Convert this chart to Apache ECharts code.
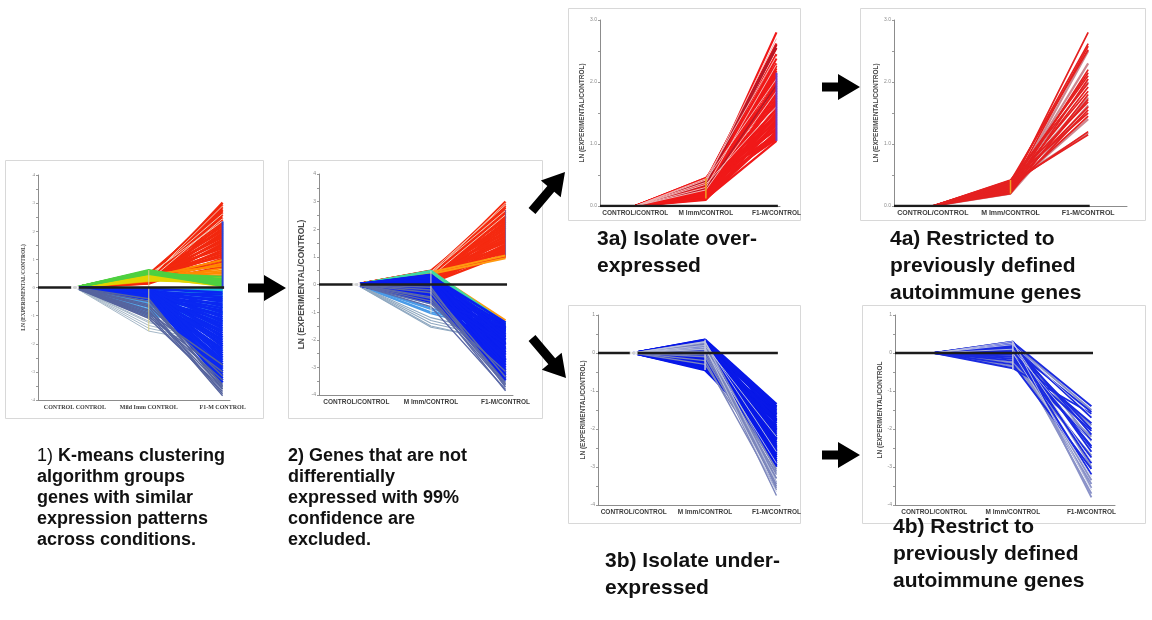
<!DOCTYPE html>
<html>
<head>
<meta charset="utf-8">
<script src="https://cdn.jsdelivr.net/npm/echarts@6/dist/echarts.min.js"></script>
<style>
  html, body { margin: 0; padding: 0; background: #ffffff; }
  #chart { width: 1152px; height: 620px; }
</style>
</head>
<body>
<div id="chart"></div>
<script>
// Conditions shown along each panel's horizontal axis (CONTROL/CONTROL is the baseline, always 0)
const conditionsStep1 = ['CONTROL CONTROL', 'Mild Imm CONTROL', 'F1-M CONTROL'];
const conditions = ['CONTROL/CONTROL', 'M Imm/CONTROL', 'F1-M/CONTROL'];
const yName = 'LN (EXPERIMENTAL/CONTROL)';
const yNameShort = 'LN (EXPERIMENTAL/CONTROL';

// Gene expression profiles: [LN ratio at M Imm, LN ratio at F1-M]

// Step 1: all genes, coloured by k-means cluster
const allRed = [[0.22,3.02],[0.35,2.95],[0.41,2.86],[0.28,2.78],[0.47,2.72],[0.19,2.66],[0.33,2.58],[0.44,2.49],[0.25,2.41],[0.38,2.33],[0.15,2.26],[0.49,2.18],[0.3,2.1],[0.42,2.02],[0.2,1.95],[0.36,1.87],[0.46,1.79],[0.26,1.71],[0.4,1.63],[0.17,1.56],[0.33,1.48],[0.48,1.4],[0.23,1.33],[0.39,1.25],[0.29,1.18],[0.44,1.1],[0.14,1.03],[0.35,0.96],[0.27,0.88],[0.43,0.8],[0.2,0.74]];
const allPale = [[0.3,2.9],[0.38,2.62],[0.24,2.45],[0.45,2.36]];
const allOrange = [[0.36,0.98],[0.28,0.85],[0.45,0.77],[0.31,0.68],[0.4,0.6],[0.22,0.55],[0.47,0.5],[0.34,0.44],[0.26,0.38],[0.42,0.52]];
const allYellow = [[0.38,0.34],[0.3,0.28],[0.45,0.22],[0.25,0.18],[0.41,0.13],[0.33,0.09],[0.5,0.25],[0.36,0.05]];
const allGreen = [[0.55,0.3],[0.6,0.22],[0.52,0.15],[0.58,0.1],[0.5,0.38],[0.57,0.04],[0.62,0.18],[0.48,0.08],[0.54,0.26],[0.6,0.12]];
const allCyan = [[-0.12,-0.08],[-0.2,-0.15],[-0.08,-0.05],[-0.28,-0.22],[-0.16,-0.3],[-0.05,-0.12]];
const allSky = [[-0.25,-0.45],[-0.35,-0.7],[-0.48,-0.6],[-0.55,-0.95],[-0.62,-1.2],[-0.7,-0.85],[-0.78,-1.35],[-0.85,-1.1],[-0.92,-1.5],[-1.0,-1.25],[-0.4,-0.9],[-0.3,-0.35],[-0.66,-0.5],[-0.82,-0.72],[-0.95,-0.9]];
const allGrey = [[-1.1,-1.6],[-1.25,-1.85],[-1.45,-2.0],[-1.55,-2.05],[-1.35,-1.95],[-1.2,-2.1]];
const allBlue = [[-0.05,-0.18],[-0.2,-0.25],[-0.12,-0.35],[-0.3,-0.42],[-0.15,-0.5],[-0.34,-0.58],[-0.08,-0.66],[-0.26,-0.74],[-0.36,-0.82],[-0.1,-0.9],[-0.3,-0.98],[-0.18,-1.06],[-0.38,-1.14],[-0.06,-1.22],[-0.28,-1.3],[-0.34,-1.38],[-0.14,-1.46],[-0.3,-1.54],[-0.22,-1.62],[-0.38,-1.7],[-0.04,-1.78],[-0.27,-1.86],[-0.19,-1.94],[-0.35,-2.02],[-0.09,-2.1],[-0.4,-2.18],[-0.24,-2.26],[-0.15,-2.34],[-0.32,-2.42],[-0.07,-2.5],[-0.37,-2.58],[-0.21,-2.66],[-0.29,-2.74],[-0.12,-2.82],[-0.4,-2.9],[-0.2,-2.98],[-0.33,-3.06],[-0.27,-3.14],[-0.41,-3.22],[-0.17,-3.3],[-0.32,-3.38]];
const allSlate = [[-0.6,-3.45],[-0.85,-3.55],[-0.4,-3.62],[-1.0,-3.7],[-0.7,-3.78],[-0.95,-3.3],[-0.5,-3.5],[-0.8,-3.85],[-1.1,-3.6],[-0.65,-3.15],[-0.9,-2.75],[-1.05,-3.0]];

// Step 2: genes differentially expressed with 99% confidence
const deRed = [[0.32,3.0],[0.45,2.92],[0.2,2.85],[0.38,2.78],[0.5,2.7],[0.26,2.63],[0.42,2.55],[0.12,2.48],[0.35,2.41],[0.47,2.34],[0.22,2.27],[0.4,2.2],[0.3,2.13],[0.08,2.06],[0.44,1.99],[0.27,1.92],[0.37,1.85],[0.16,1.78],[0.49,1.72],[0.33,1.65],[0.24,1.58],[0.41,1.52],[0.1,1.45],[0.36,1.39],[0.46,1.33],[0.19,1.27],[0.3,1.21],[0.43,1.15],[0.06,1.1],[0.28,1.05],[0.39,1.0],[0.15,1.62],[0.48,2.45],[0.05,1.35],[0.34,1.03]];
const dePale = [[0.36,2.95],[0.42,2.68],[0.28,2.52],[0.46,2.88]];
const deOrange = [[0.44,1.05],[0.38,0.95],[0.47,-1.3],[0.42,-1.42]];
const deGreen = [[0.48,-1.45],[0.45,-1.6],[0.5,-1.4],[0.3,-1.5],[0.25,-1.65]];
const deSky = [[-0.55,-1.5],[-0.7,-1.65],[-0.85,-1.8],[-1.0,-1.55],[-0.6,-2.0],[-0.9,-2.1],[-1.05,-1.75]];
const deGrey = [[-1.2,-1.85],[-1.4,-2.0],[-1.55,-2.05],[-1.3,-1.95],[-1.5,-2.1]];
const deBlue = [[0.3,-1.38],[0.1,-1.45],[-0.2,-1.5],[0.22,-1.56],[-0.45,-1.62],[0.05,-1.68],[-0.3,-1.74],[0.35,-1.8],[-0.1,-1.86],[-0.6,-1.92],[0.15,-1.98],[-0.25,-2.04],[-0.55,-2.1],[0.28,-2.16],[-0.05,-2.22],[-0.5,-2.28],[0.18,-2.34],[-0.35,-2.4],[-0.6,-2.46],[0.08,-2.52],[-0.15,-2.58],[-0.62,-2.64],[0.25,-2.7],[-0.4,-2.76],[-0.02,-2.82],[-0.5,-2.88],[0.12,-2.94],[-0.28,-3.0],[-0.55,-3.06],[0.2,-3.12],[-0.12,-3.18],[-0.58,-3.24],[0.02,-3.3],[-0.42,-3.36],[-0.48,-3.42],[-0.22,-3.48],[0.32,-1.6],[-0.62,-1.7],[0.14,-2.0],[-0.45,-2.3],[0.26,-2.45],[-0.58,-1.55],[0.04,-2.75],[-0.38,-2.15],[0.33,-1.9]];
const deSlate = [[-0.3,-3.55],[-0.6,-3.65],[-0.1,-3.72],[-0.8,-3.8],[-0.45,-3.6],[-0.2,-3.35],[-0.7,-3.15],[-0.5,-3.85]];

// Step 3a: over-expressed genes
const overRed = [[0.12,1.05],[0.3,1.08],[0.42,1.1],[0.2,1.13],[0.36,1.16],[0.15,1.2],[0.44,1.23],[0.26,1.26],[0.33,1.3],[0.1,1.33],[0.4,1.36],[0.22,1.4],[0.3,1.44],[0.45,1.47],[0.17,1.5],[0.38,1.54],[0.27,1.57],[0.12,1.6],[0.43,1.64],[0.34,1.67],[0.2,1.7],[0.29,1.74],[0.41,1.78],[0.14,1.82],[0.37,1.86],[0.24,1.9],[0.45,1.94],[0.31,1.98],[0.18,2.02],[0.39,2.06],[0.27,2.1],[0.35,2.14],[0.43,2.18],[0.22,2.22],[0.32,2.26],[0.4,2.3],[0.28,2.38],[0.36,2.45],[0.42,2.55],[0.33,2.6],[0.4,2.62],[0.3,2.8],[0.11,1.18],[0.25,1.48],[0.16,1.35]];
const overPale = [[0.38,2.7],[0.3,2.28],[0.42,2.05],[0.26,1.85],[0.35,1.6],[0.44,2.42]];
const overDark = [[0.4,2.6],[0.34,2.55],[0.28,1.95]];

// Step 4a: over-expressed, previously defined autoimmune genes
const autoOverRed = [[0.3,2.8],[0.36,2.62],[0.28,2.58],[0.4,2.52],[0.25,2.2],[0.33,2.15],[0.38,2.1],[0.22,2.05],[0.42,1.98],[0.3,1.92],[0.35,1.85],[0.2,1.8],[0.27,1.72],[0.39,1.68],[0.32,1.6],[0.24,1.55],[0.41,1.5],[0.29,1.45],[0.34,1.2],[0.37,1.15]];
const autoOverDusty = [[0.26,2.3],[0.35,2.0],[0.2,1.62],[0.3,1.4],[0.38,1.18],[0.22,2.5],[0.33,1.75]];

// Step 3b: under-expressed genes
const underBlue = [[0.35,-1.35],[0.1,-1.4],[-0.2,-1.45],[0.28,-1.5],[-0.05,-1.55],[0.3,-1.6],[-0.35,-1.65],[0.15,-1.7],[0.05,-1.75],[-0.15,-1.8],[0.32,-1.85],[-0.4,-1.9],[0.2,-1.95],[-0.1,-2.0],[0.25,-2.05],[0.0,-2.1],[-0.28,-2.15],[0.12,-2.2],[0.33,-2.25],[-0.45,-2.3],[0.07,-2.35],[-0.18,-2.4],[0.22,-2.45],[-0.08,-2.5],[0.3,-2.55],[-0.3,-2.6],[0.16,-2.65],[-0.02,-2.7],[0.26,-2.75],[-0.22,-2.8],[0.1,-2.85],[0.34,-2.9],[-0.12,-2.95],[0.2,-3.0],[-0.38,-1.52],[0.02,-1.62],[0.27,-1.78],[-0.25,-2.02],[0.18,-2.28],[-0.05,-2.58],[0.31,-1.42],[-0.42,-2.48]];
const underSlate = [[0.3,-3.1],[0.1,-3.2],[-0.1,-3.3],[0.25,-3.4],[0.05,-3.5],[-0.2,-3.6],[0.18,-3.75],[0.28,-3.55],[-0.05,-3.05],[0.12,-3.45],[0.22,-3.3],[-0.3,-3.15]];
const underPale = [[0.2,-2.2],[0.28,-2.6],[0.1,-2.9],[0.3,-3.4],[0.15,-3.65]];

// Step 4b: under-expressed, previously defined autoimmune genes
const autoUnderBlue = [[0.28,-1.4],[0.1,-1.55],[0.22,-1.7],[-0.1,-1.85],[0.15,-2.0],[0.25,-2.15],[-0.2,-2.3],[0.05,-2.45],[0.3,-2.6],[-0.05,-2.75],[0.18,-2.9],[-0.3,-3.05],[0.12,-3.2],[-0.4,-1.6],[0.2,-2.5],[-0.15,-2.05]];
const autoUnderLilac = [[0.25,-1.5],[0.0,-1.9],[0.3,-2.3],[-0.25,-2.7],[0.15,-3.35],[0.2,-3.55],[0.08,-3.7],[0.28,-3.8],[-0.1,-3.45],[-0.35,-2.2],[0.3,-3.0]];
const autoUnderPale = [[0.22,-1.65],[0.1,-2.35],[0.26,-2.85],[0.0,-3.25],[0.3,-3.6]];

const isInt = v => Math.abs(v - Math.round(v)) < 1e-6;

// Panel layout and styling
const panels = [
  { frame: [5, 160, 258, 258], grid: { left: 38, top: 175, width: 192, height: 225 },
    xMax: 2.1, yMin: -4, yMax: 4, labels: conditionsStep1, name: yName, nameGap: 6, nameSize: 5.5,
    font: '"Liberation Serif", serif', labelSize: 6, yFmt: v => String(Math.round(v)),
    zeroLine: true, circle: true,
    markers: [{ x: 1, from: 0.62, to: -1.55, color: '#d9d088', width: 1 }, { x: 2, from: 2.35, to: -0.05, color: '#2a44d8', width: 2 }],
    groups: [
      { data: allRed, color: '#f2280e', width: 2.4 }, { data: allPale, color: '#f6c8b4', width: 1 },
      { data: allOrange, color: '#ff8a00', width: 2 }, { data: allYellow, color: '#e2d400', width: 2 },
      { data: allGreen, color: '#4ed040', width: 2 }, { data: allCyan, color: '#1cb8d8', width: 2 },
      { data: allSky, color: '#4ca8ee', width: 2.2 }, { data: allGrey, color: '#a6b8c8', width: 1 },
      { data: allBlue, color: '#0a28f2', width: 2.6 }, { data: allSlate, color: '#56649e', width: 1.4 }
    ] },
  { frame: [288, 160, 254, 258], grid: { left: 319, top: 174, width: 194, height: 221 },
    xMax: 2.1, yMin: -4, yMax: 4, labels: conditions, name: yName, nameGap: 13, nameSize: 8.5,
    font: '"Liberation Sans", Arial, sans-serif', labelSize: 6.5, yFmt: v => String(Math.round(v)),
    zeroLine: true, circle: true,
    markers: [{ x: 1, from: 0.5, to: -1.05, color: '#dcdcc8', width: 1 }, { x: 2, from: 2.7, to: 1.05, color: '#8a5a8a', width: 1 }],
    groups: [
      { data: deRed, color: '#f52a10', width: 2.4 }, { data: dePale, color: '#f6c4b0', width: 1 },
      { data: deOrange, color: '#ff9a10', width: 2 }, { data: deGreen, color: '#40d8a0', width: 2 },
      { data: deSky, color: '#4a9be8', width: 1.6 }, { data: deGrey, color: '#8fa8c0', width: 1.1 },
      { data: deBlue, color: '#0a1ef0', width: 2.6 }, { data: deSlate, color: '#5c6aa8', width: 1.4 }
    ] },
  { frame: [568, 8, 232, 212], grid: { left: 600, top: 20, width: 180, height: 186 },
    xMax: 2.05, yMin: 0, yMax: 3, labels: conditions, name: yName, nameGap: 12, nameSize: 6.5,
    font: '"Liberation Sans", Arial, sans-serif', labelSize: 6.5, yFmt: v => v.toFixed(1),
    zeroLine: true, circle: false,
    markers: [{ x: 1, from: 0.45, to: 0.12, color: '#f0a020', width: 1.5 }, { x: 2, from: 2.15, to: 1.05, color: '#6a3cc8', width: 2 }],
    groups: [
      { data: overRed, color: '#f01818', width: 2.2 }, { data: overDark, color: '#b01828', width: 1.4 },
      { data: overPale, color: '#f2b4b4', width: 1 }
    ] },
  { frame: [860, 8, 285, 212], grid: { left: 894, top: 20, width: 233, height: 186 },
    xMax: 2.5, yMin: 0, yMax: 3, labels: conditions, name: yName, nameGap: 11, nameSize: 6.5,
    font: '"Liberation Sans", Arial, sans-serif', labelSize: 7, yFmt: v => v.toFixed(1),
    zeroLine: true, circle: false,
    markers: [{ x: 1, from: 0.42, to: 0.2, color: '#f0a020', width: 1.5 }],
    groups: [
      { data: autoOverDusty, color: '#cc8890', width: 2.2 }, { data: autoOverRed, color: '#e42020', width: 1.7 }
    ] },
  { frame: [568, 305, 232, 218], grid: { left: 598, top: 315, width: 182, height: 190 },
    xMax: 2.05, yMin: -4, yMax: 1, labels: conditions, name: yName, nameGap: 10, nameSize: 6.5,
    font: '"Liberation Sans", Arial, sans-serif', labelSize: 6.5, yFmt: v => String(Math.round(v)),
    zeroLine: true, circle: true,
    markers: [{ x: 1, from: 0.35, to: -0.45, color: '#c8c8e0', width: 1.5 }],
    groups: [
      { data: underBlue, color: '#0818e8', width: 2.6 }, { data: underSlate, color: '#7c86bc', width: 1.4 },
      { data: underPale, color: '#c0c6e0', width: 0.9 }
    ] },
  { frame: [862, 305, 283, 218], grid: { left: 895, top: 315, width: 220, height: 190 },
    xMax: 2.3, yMin: -4, yMax: 1, labels: conditions, name: yNameShort, nameGap: 9, nameSize: 6.5,
    font: '"Liberation Sans", Arial, sans-serif', labelSize: 6.5, yFmt: v => String(Math.round(v)),
    zeroLine: true, circle: false,
    markers: [{ x: 1, from: 0.3, to: -0.45, color: '#c8c8e0', width: 1.5 }],
    groups: [
      { data: autoUnderLilac, color: '#8a92c8', width: 1.9 }, { data: autoUnderBlue, color: '#1a2ae0', width: 1.9 },
      { data: autoUnderPale, color: '#c4c8e4', width: 0.9 }
    ] }
];

const grids = [], xAxes = [], yAxes = [], series = [];
panels.forEach((p, i) => {
  grids.push(Object.assign({ containLabel: false }, p.grid));
  xAxes.push({
    gridIndex: i, type: 'value', min: -0.5, max: p.xMax, interval: 0.5,
    axisLine: { onZero: false, lineStyle: { color: '#8c8c8c', width: 1 } },
    axisTick: { show: false }, splitLine: { show: false },
    axisLabel: {
      formatter: v => (isInt(v) && p.labels[Math.round(v)] !== undefined && v >= 0) ? p.labels[Math.round(v)] : '',
      fontSize: p.labelSize, fontWeight: 'bold', color: '#3c3c3c', fontFamily: p.font, margin: 4
    }
  });
  yAxes.push({
    gridIndex: i, type: 'value', min: p.yMin, max: p.yMax, interval: 0.5,
    axisLine: { show: true, onZero: false, lineStyle: { color: '#8c8c8c', width: 1 } },
    axisTick: { show: true, length: 2, lineStyle: { color: '#9a9a9a' } },
    splitLine: { show: false },
    axisLabel: { formatter: v => isInt(v) ? p.yFmt(v) : '', fontSize: 5, color: '#8a8a8a', margin: 3, fontFamily: p.font },
    name: p.name, nameLocation: 'middle', nameGap: p.nameGap,
    nameTextStyle: { fontSize: p.nameSize, fontWeight: 'bold', color: '#4a4a4a', fontFamily: p.font }
  });
  p.groups.forEach(g => {
    g.data.forEach(([m, f]) => {
      series.push({
        type: 'line', xAxisIndex: i, yAxisIndex: i, silent: true, animation: false,
        symbol: 'none', z: 2, data: [[0, 0], [1, m], [2, f]],
        lineStyle: { color: g.color, width: g.width }
      });
    });
  });
  p.markers.forEach(mk => {
    series.push({
      type: 'line', xAxisIndex: i, yAxisIndex: i, silent: true, animation: false,
      symbol: 'none', z: 3, data: [[mk.x, mk.from], [mk.x, mk.to]],
      lineStyle: { color: mk.color, width: mk.width }
    });
  });
  if (p.zeroLine) {
    series.push({
      type: 'line', xAxisIndex: i, yAxisIndex: i, silent: true, animation: false,
      symbol: 'none', z: 4, data: [[-0.5, 0], [2.02, 0]],
      lineStyle: { color: '#1c1c1c', width: 2.5 }
    });
  }
  if (p.circle) {
    series.push({
      type: 'scatter', xAxisIndex: i, yAxisIndex: i, silent: true, animation: false,
      z: 5, data: [[0, 0]], symbol: 'emptyCircle', symbolSize: 6,
      itemStyle: { color: '#ffffff', borderColor: '#8a8a8a', borderWidth: 1 }
    });
  }
});

// Block arrow between workflow steps
function arrow(x1, y1, x2, y2) {
  const sw = 4.5, hw = 13, hl = 22;
  const len = Math.hypot(x2 - x1, y2 - y1);
  const ux = (x2 - x1) / len, uy = (y2 - y1) / len;
  const nx = -uy, ny = ux;
  const bx = x2 - ux * hl, by = y2 - uy * hl;
  return {
    type: 'polygon', z: 100, silent: true,
    shape: { points: [
      [x1 + nx * sw, y1 + ny * sw], [bx + nx * sw, by + ny * sw], [bx + nx * hw, by + ny * hw],
      [x2, y2], [bx - nx * hw, by - ny * hw], [bx - nx * sw, by - ny * sw], [x1 - nx * sw, y1 - ny * sw]
    ] },
    style: { fill: '#000000' }
  };
}

const capFont = '"Liberation Sans", Arial, Helvetica, sans-serif';
function caption(x, y, text, size, lh, rich) {
  return {
    type: 'text', z: 100, silent: true, left: x, top: y,
    style: {
      text, fill: '#111111', font: `bold ${size}px ${capFont}`,
      fontSize: size, fontWeight: 'bold', fontFamily: capFont, lineHeight: lh,
      rich: rich || {}
    }
  };
}

const frames = panels.map(p => ({
  type: 'rect', z: 0, silent: true,
  shape: { x: p.frame[0] + 0.5, y: p.frame[1] + 0.5, width: p.frame[2], height: p.frame[3] },
  style: { fill: '#ffffff', stroke: '#d8d8d8', lineWidth: 1 }
}));

const capRich = {
  n: { fontSize: 18, fontWeight: 'normal', fontFamily: capFont, fill: '#111111', lineHeight: 21 },
  b: { fontSize: 18, fontWeight: 'bold', fontFamily: capFont, fill: '#111111', lineHeight: 21 }
};

const graphics = frames.concat([
  arrow(248, 288, 286, 288),
  arrow(532, 211, 565, 172),
  arrow(532, 338, 566, 378),
  arrow(822, 87, 860, 87),
  arrow(822, 455, 860, 455),
  caption(37, 446, '{n|1)} {b|K-means clustering}\n{b|algorithm groups}\n{b|genes with similar}\n{b|expression patterns}\n{b|across conditions.}', 18, 21, capRich),
  caption(288, 446, '2) Genes that are not\ndifferentially\nexpressed with 99%\nconfidence are\nexcluded.', 18, 21),
  caption(597, 226, '3a) Isolate over-\nexpressed', 21, 27),
  caption(890, 226, '4a) Restricted to\npreviously defined\nautoimmune genes', 21, 27),
  caption(605, 548, '3b) Isolate under-\nexpressed', 21, 27),
  caption(893, 514, '4b) Restrict to\npreviously defined\nautoimmune genes', 21, 27)
]);

const chart = echarts.init(document.getElementById('chart'), null, { renderer: 'canvas' });
chart.setOption({
  backgroundColor: '#ffffff',
  animation: false,
  grid: grids,
  xAxis: xAxes,
  yAxis: yAxes,
  series,
  graphic: { elements: graphics }
});
</script>
</body>
</html>
